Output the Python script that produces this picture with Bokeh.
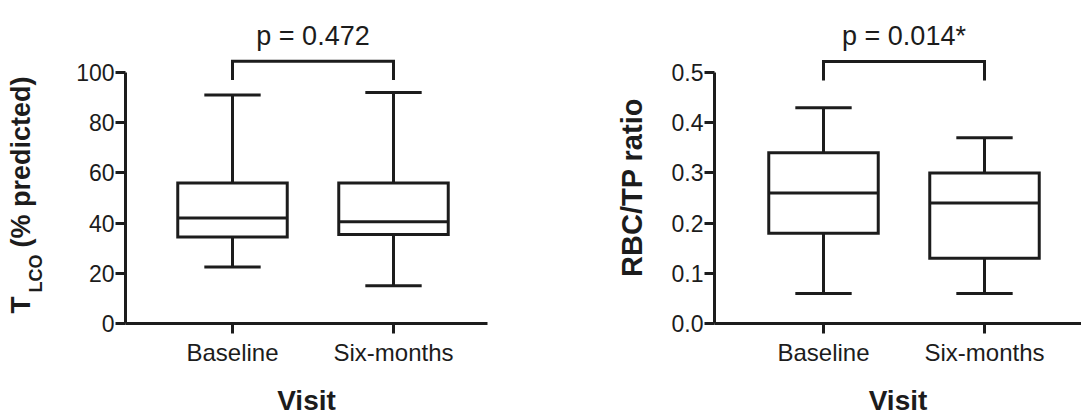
import math
from bokeh.plotting import figure
from bokeh.models import FixedTicker, Label, PrintfTickFormatter, Range1d
from bokeh.layouts import row
from bokeh.embed import file_html
from bokeh.resources import INLINE
from bokeh.core.properties import value

# ---------------- data ----------------
categories = ["Baseline", "Six-months"]
positions = [1, 2]

tlco_low = [22.5, 15.0]
tlco_q1 = [34.5, 35.5]
tlco_median = [42.0, 40.5]
tlco_q3 = [56.0, 56.0]
tlco_high = [91.0, 92.0]
tlco_ticks = [0, 20, 40, 60, 80, 100]
tlco_pvalue = "p = 0.472"
tlco_bracket = [97.0, 104.5]
tlco_label_parts = ["T", "LCO", "(% predicted)"]

rbc_low = [0.06, 0.06]
rbc_q1 = [0.18, 0.13]
rbc_median = [0.26, 0.24]
rbc_q3 = [0.34, 0.30]
rbc_high = [0.43, 0.37]
rbc_ticks = [0.0, 0.1, 0.2, 0.3, 0.4, 0.5]
rbc_pvalue = "p = 0.014*"
rbc_bracket = [0.484, 0.522]
rbc_label = "RBC/TP ratio"

x_label = "Visit"

# ---------------- style ----------------
FONT = "Liberation Sans"
INK = "#1c1c1c"
LW = 3
BOX_W = 0.68
CAP_W = 0.35
PX_PER_CAT = 161.0
H = 418
TOP = 13
FRAME_H = 310
BOTTOM = H - TOP - FRAME_H


def make_panel(width, border_left, frame_w, cat_offset_px, ymax,
               low, q1, med, q3, high, ticks, bracket, pvalue, title_y, fmt=None):
    x_start = positions[0] - cat_offset_px / PX_PER_CAT
    x_end = x_start + frame_w / PX_PER_CAT
    p = figure(width=width, height=H, output_backend="svg",
               toolbar_location=None,
               x_range=Range1d(x_start, x_end), y_range=Range1d(0, ymax),
               min_border_left=border_left,
               min_border_right=width - border_left - frame_w,
               min_border_top=TOP,
               min_border_bottom=BOTTOM)
    p.outline_line_color = None
    p.grid.visible = False
    p.background_fill_color = "white"
    p.border_fill_color = "white"

    for ax in (p.xaxis[0], p.yaxis[0]):
        ax.axis_line_width = LW
        ax.axis_line_color = INK
        ax.major_tick_line_width = LW
        ax.major_tick_line_color = INK
        ax.major_tick_out = 10
        ax.major_tick_in = 0
        ax.minor_tick_line_color = None
        ax.major_label_text_font = FONT
        ax.major_label_text_color = INK
        ax.axis_label_text_font = FONT
        ax.axis_label_text_font_style = "bold"
        ax.axis_label_text_color = INK
        ax.axis_label_text_font_size = "28px"

    xa = p.xaxis[0]
    xa.ticker = FixedTicker(ticks=positions)
    xa.major_label_overrides = {pos: cat for pos, cat in zip(positions, categories)}
    xa.major_label_text_font_size = "24px"
    xa.major_label_standoff = 5
    xa.axis_label = x_label
    xa.axis_label_standoff = 16

    ya = p.yaxis[0]
    ya.ticker = FixedTicker(ticks=ticks)
    ya.bounds = (ticks[0], ticks[-1])
    ya.major_label_text_font_size = "23px"
    ya.major_label_standoff = 1
    if fmt is not None:
        ya.formatter = PrintfTickFormatter(format=fmt)

    left = [x - BOX_W / 2 for x in positions]
    right = [x + BOX_W / 2 for x in positions]
    cl = [x - CAP_W / 2 for x in positions]
    cr = [x + CAP_W / 2 for x in positions]

    # whiskers
    p.segment(x0=positions, x1=positions, y0=q3, y1=high, line_color=INK, line_width=LW)
    p.segment(x0=positions, x1=positions, y0=low, y1=q1, line_color=INK, line_width=LW)
    p.segment(x0=cl, x1=cr, y0=high, y1=high, line_color=INK, line_width=LW)
    p.segment(x0=cl, x1=cr, y0=low, y1=low, line_color=INK, line_width=LW)
    # boxes
    p.quad(left=left, right=right, bottom=q1, top=q3, fill_color="white",
           line_color=INK, line_width=LW, line_join="miter")
    p.segment(x0=left, x1=right, y0=med, y1=med, line_color=INK, line_width=LW)

    # significance bracket
    bx = [positions[0], positions[0], positions[1], positions[1]]
    by = [bracket[0], bracket[1], bracket[1], bracket[0]]
    p.line(x=bx, y=by, line_color=INK, line_width=LW, line_join="miter")

    p.add_layout(Label(x=sum(positions) / 2, y=title_y, text=pvalue,
                       text_font=FONT, text_font_size="27px", text_color=INK,
                       text_align="center", text_baseline="alphabetic"))
    return p


def label_strip(width):
    """Narrow figure whose frame matches the panels' frames; data units are pixels
    (x from the strip's left edge, y = distance from the canvas top, flipped)."""
    s = figure(width=width, height=H, output_backend="svg", toolbar_location=None,
               x_range=Range1d(0, width), y_range=Range1d(H - TOP - FRAME_H, H - TOP),
               x_axis_location=None, y_axis_location=None,
               min_border_left=0, min_border_right=0,
               min_border_top=TOP, min_border_bottom=BOTTOM)
    s.outline_line_color = None
    s.grid.visible = False
    s.background_fill_color = "white"
    s.border_fill_color = "white"
    return s


def put_vtext(s, baseline_x, y_img, txt, size_px, align="left"):
    # rotated text: anchor at the middle of the glyph box, so shift from baseline
    s.text(x=[baseline_x - 0.358 * size_px], y=[H - y_img], text=[txt], angle=math.pi / 2,
           text_font=value(FONT), text_font_style="bold", text_font_size=f"{size_px}px",
           text_color=INK, text_align=align, text_baseline="middle")


# Left y-axis title strip: T_LCO (% predicted)   (canvas x 0..50)
stripL = label_strip(50)
put_vtext(stripL, 30, 313, tlco_label_parts[0], 28)
put_vtext(stripL, 42, 292, tlco_label_parts[1], 18)
put_vtext(stripL, 30, 247, tlco_label_parts[2], 27)

# Left panel (canvas x 50..600)
p1 = make_panel(550, 75, 362, 107, (323 - TOP) / 2.51,
                tlco_low, tlco_q1, tlco_median, tlco_q3, tlco_high,
                tlco_ticks, tlco_bracket, tlco_pvalue, 114.7)

# Right y-axis title strip (canvas x 600..660)
stripR = label_strip(60)
put_vtext(stripR, 42, 187, rbc_label, 29, align="center")

# Right panel (canvas x 660..1081)
p2 = make_panel(421, 54, 367, 109, (323 - TOP) / 502.0,
                rbc_low, rbc_q1, rbc_median, rbc_q3, rbc_high,
                rbc_ticks, rbc_bracket, rbc_pvalue, 0.5737, fmt="%.1f")

layout = row(stripL, p1, stripR, p2, spacing=0)
open("out.html", "w").write(file_html(layout, INLINE))
